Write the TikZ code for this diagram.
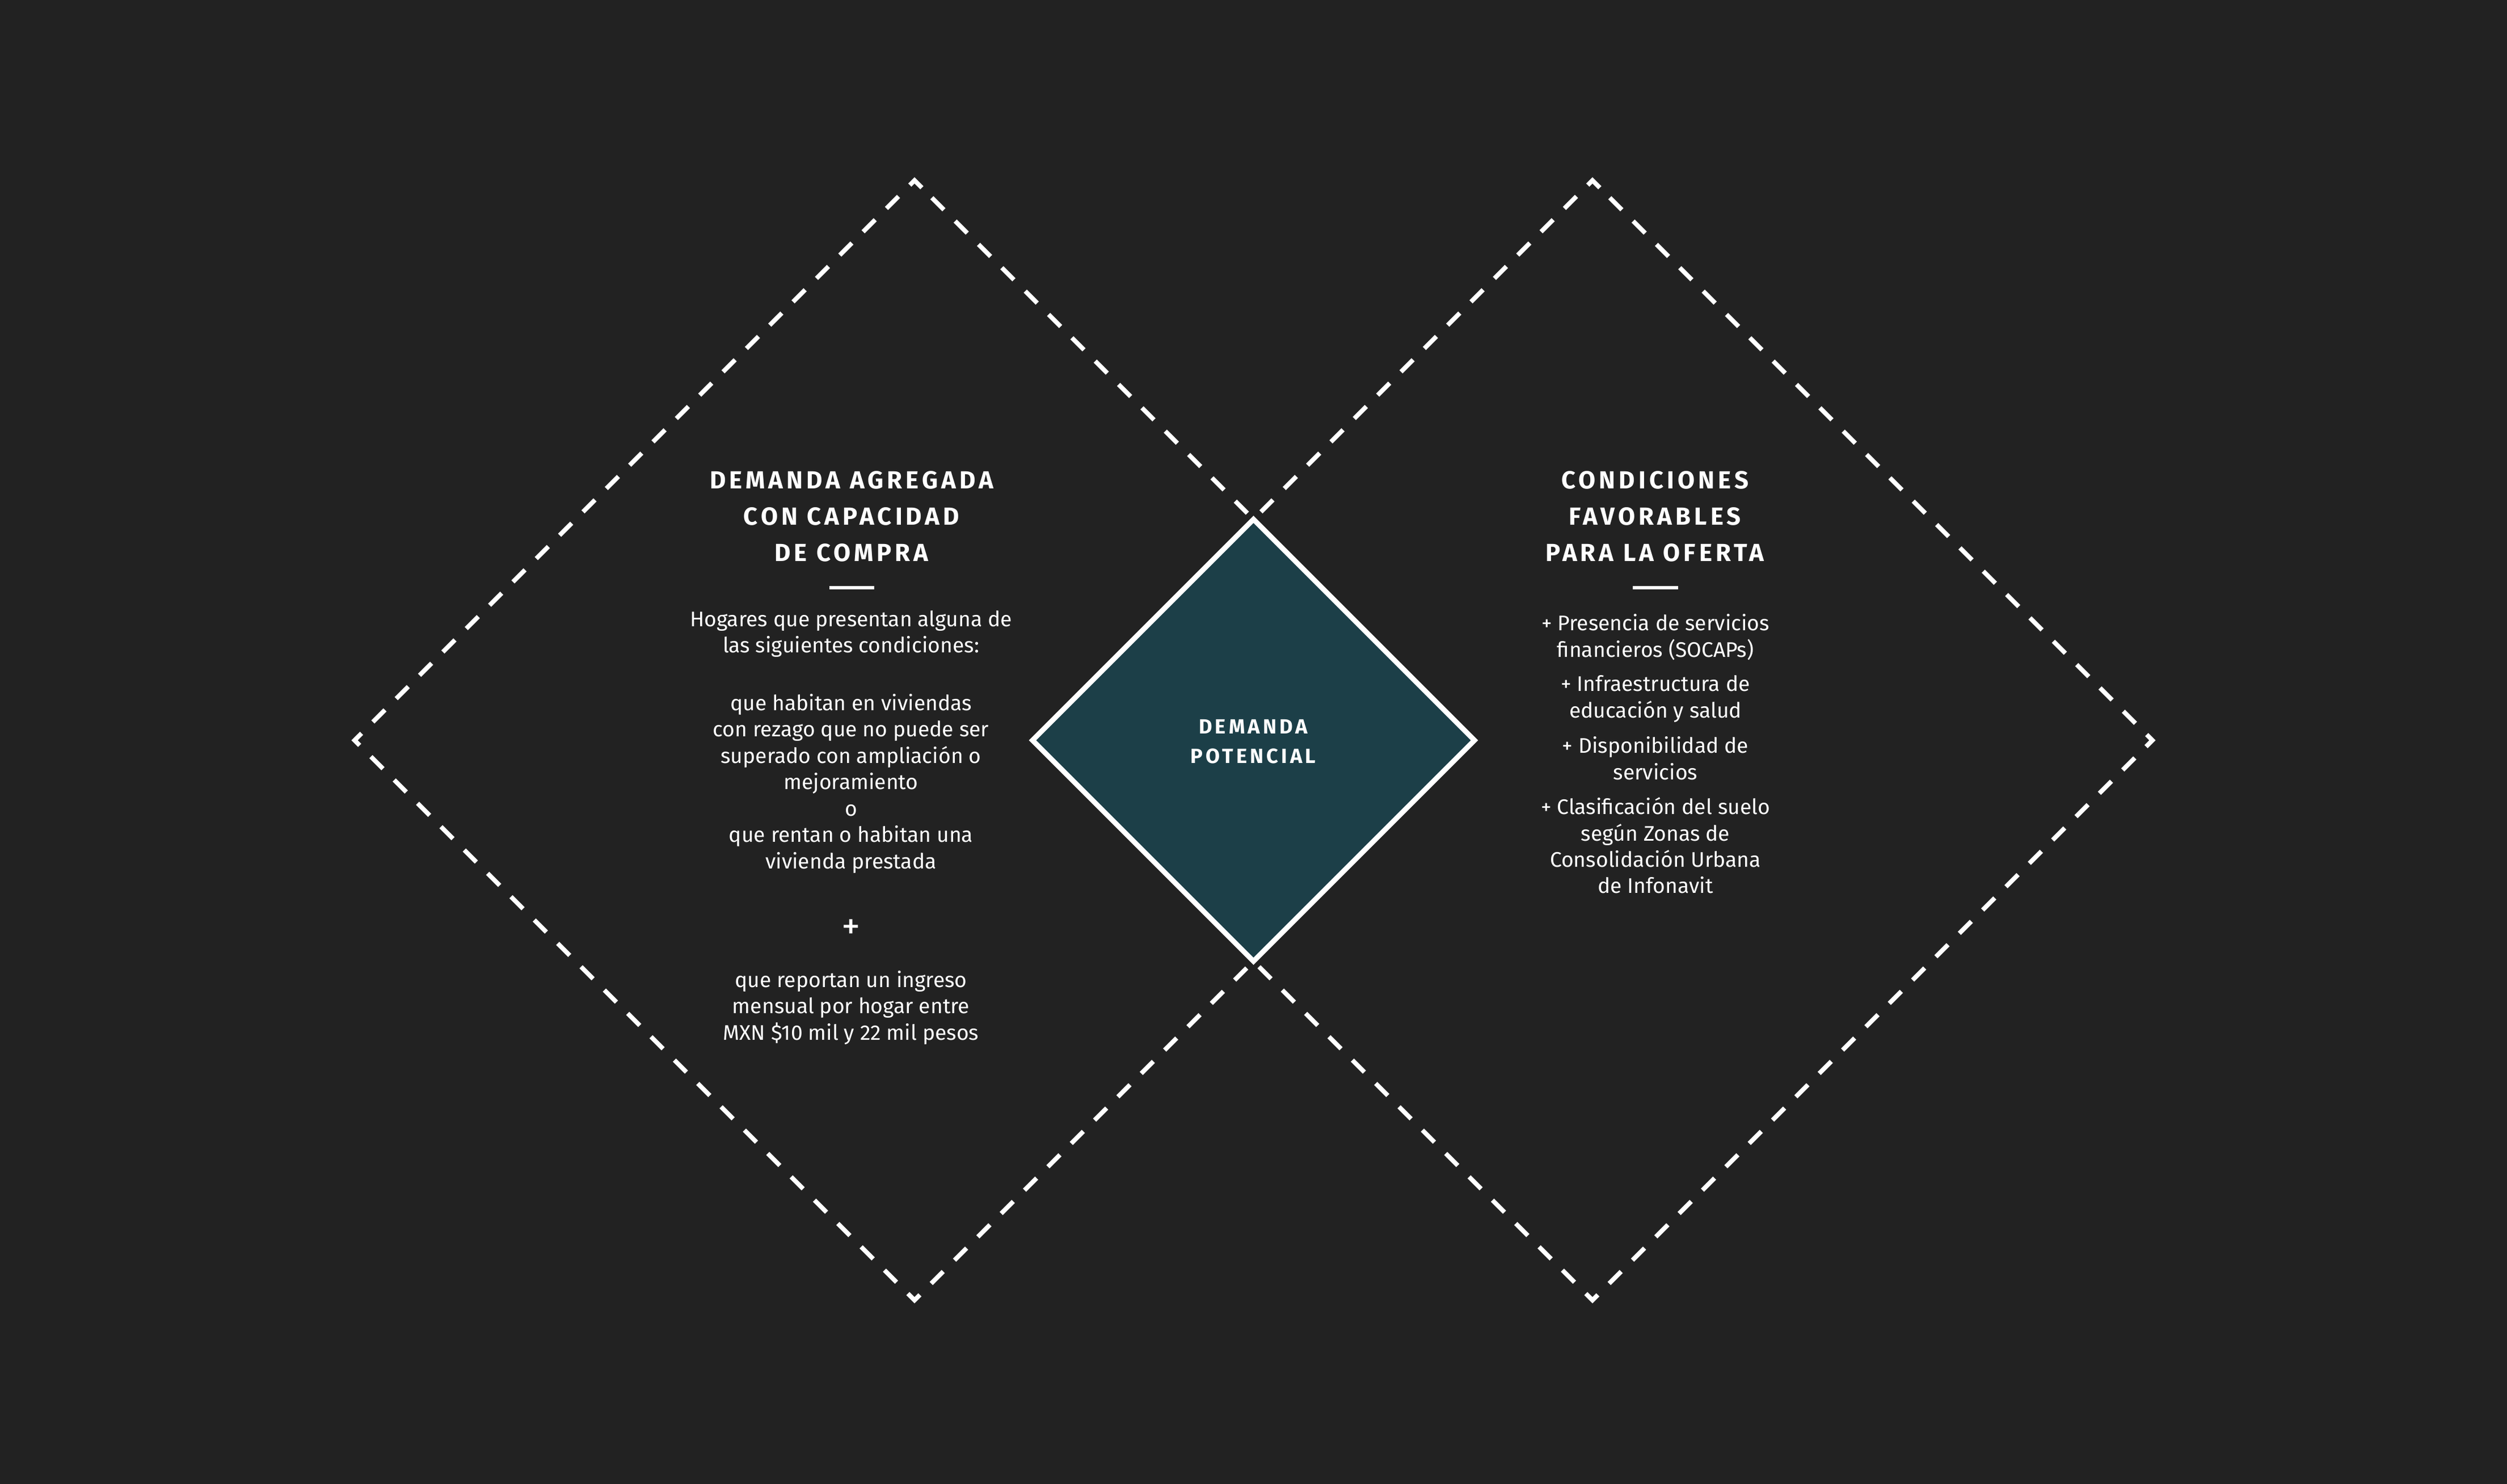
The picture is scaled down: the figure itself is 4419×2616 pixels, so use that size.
\documentclass[tikz,border=0pt]{standalone}
\usepackage{fontspec}
\setmainfont{Fira Sans}
\newfontfamily\headfont[LetterSpace=14]{Fira Sans}
\definecolor{bgc}{HTML}{222222}
\definecolor{corefill}{HTML}{1C3F48}
\tikzset{
  outline/.style={draw=white, line width=2.28pt, dash pattern=on 0.30cm off 0.2816cm, line join=miter, miter limit=4},
  core/.style={fill=corefill, draw=white, line width=2.56pt, line join=miter},
  head/.style={text=white, inner sep=0pt, anchor=base, font=\headfont\bfseries\fontsize{12.4}{15}\selectfont},
  body/.style={text=white, inner sep=0pt, anchor=base, font=\fontsize{10.6}{13}\selectfont},
  corelabel/.style={text=white, inner sep=0pt, anchor=base, font=\headfont\bfseries\fontsize{10.3}{13}\selectfont},
  rulebar/.style={draw=white, line width=1.7pt}
}
\begin{document}
\begin{tikzpicture}[x=0.01cm,y=-0.01cm]
\useasboundingbox (0,0) rectangle (4419,2616);
\fill[bgc] (0,0) rectangle (4419,2616);
% left square
\coordinate (LT) at (1612,318);
\coordinate (LR) at (2599,1305);
\coordinate (LB) at (1612,2292);
\coordinate (LL) at (625,1305);
\coordinate (LS) at (1642.52,348.52);
% right square
\coordinate (RT) at (2807,318);
\coordinate (RR) at (3794,1305);
\coordinate (RB) at (2807,2292);
\coordinate (RL) at (1820,1305);
\coordinate (RS) at (2837.52,348.52);
\draw[outline] (LS) -- (LR) -- (LB) -- (LL) -- (LT) -- (LS);
\draw[outline] (RS) -- (RR) -- (RB) -- (RL) -- (RT) -- (RS);
% core diamond
\coordinate (CT) at (2209.5,915.5);
\coordinate (CR) at (2599,1305);
\coordinate (CB) at (2209.5,1694.5);
\coordinate (CL) at (1820,1305);
\draw[core] (CT) -- (CR) -- (CB) -- (CL) -- cycle;
\node[corelabel] (c1) at (2209,1293) {DEMANDA};
\node[corelabel] (c2) at (2209,1345) {POTENCIAL};
% left heading
\node[head] (lh1) at (1501,861) {DEMANDA AGREGADA};
\node[head] (lh2) at (1501,925) {CON CAPACIDAD};
\node[head] (lh3) at (1501,989) {DE COMPRA};
\coordinate (lu1) at (1462,1036);
\coordinate (lu2) at (1541,1036);
\draw[rulebar] (lu1) -- (lu2);
\node[body] (li1) at (1500,1104) {Hogares que presentan alguna de};
\node[body] (li2) at (1500,1150) {las siguientes condiciones:};
\foreach \txt [count=\i from 0] in {que habitan en viviendas, con rezago que no puede ser, superado con ampliación o, mejoramiento, o, que rentan o habitan una, vivienda prestada}
  \node[body] (lc\i) at (1500,{1252+46.5*\i}) {\txt};
\node[body, anchor=center, font=\fontsize{19}{19}\selectfont] (plus) at (1500,1638) {+};
\foreach \txt [count=\i from 0] in {que reportan un ingreso, mensual por hogar entre, MXN \$10 mil y 22 mil pesos}
  \node[body] (lm\i) at (1500,{1740+46.5*\i}) {\txt};
% right heading
\node[head] (rh1) at (2917,861) {CONDICIONES};
\node[head] (rh2) at (2917,925) {FAVORABLES};
\node[head] (rh3) at (2917,989) {PARA LA OFERTA};
\coordinate (ru1) at (2878,1036);
\coordinate (ru2) at (2958,1036);
\draw[rulebar] (ru1) -- (ru2);
\node[body] (ra1) at (2918,1111) {+ Presencia de servicios};
\node[body] (ra2) at (2918,1158) {financieros (SOCAPs)};
\node[body] (rb1) at (2918,1218) {+ Infraestructura de};
\node[body] (rb2) at (2918,1265) {educación y salud};
\node[body] (rc1) at (2918,1327) {+ Disponibilidad de};
\node[body] (rc2) at (2918,1374) {servicios};
\node[body] (rd1) at (2918,1435) {+ Clasificación del suelo};
\node[body] (rd2) at (2918,1482) {según Zonas de};
\node[body] (rd3) at (2918,1528) {Consolidación Urbana};
\node[body] (rd4) at (2918,1574) {de Infonavit};
\end{tikzpicture}
\end{document}
